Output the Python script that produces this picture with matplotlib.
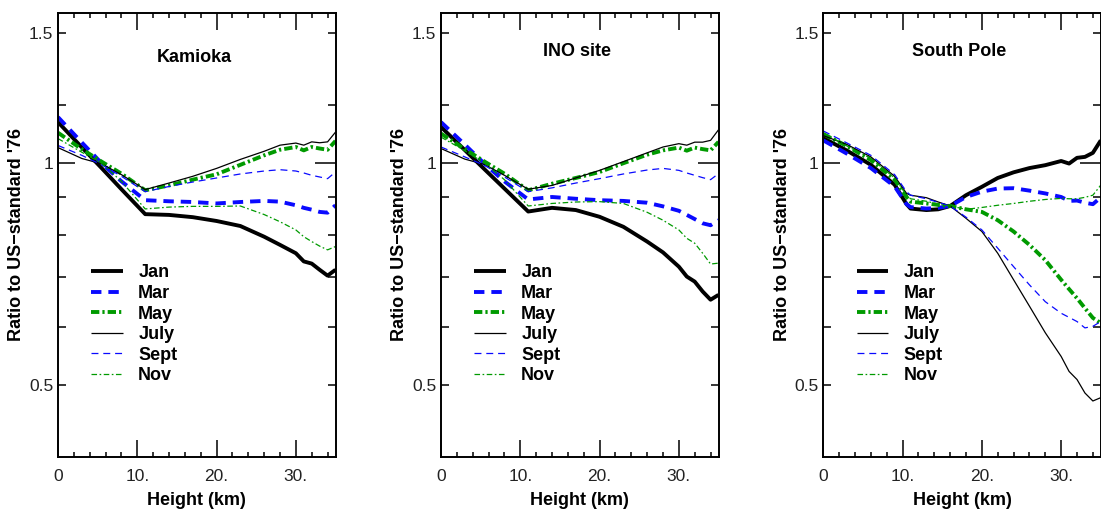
import matplotlib
matplotlib.use("Agg")
import matplotlib.pyplot as plt
from matplotlib.ticker import FixedLocator, NullFormatter

plt.rcParams['font.family'] = ['Liberation Sans', 'DejaVu Sans']
plt.rcParams['lines.scale_dashes'] = False

# ----------------------------
# Data
# ----------------------------
months = ["Jan", "Mar", "May", "July", "Sept", "Nov"]

# Kamioka
h_kam = [0, 3, 5.5, 8, 11, 14, 17, 20, 23, 26, 28, 30, 31, 32, 33, 34, 35]
kam_jan = [1.137, 1.051, 0.985, 0.922, 0.853, 0.851, 0.845, 0.835, 0.822, 0.795, 0.775, 0.755, 0.736, 0.731, 0.717, 0.704, 0.717]
kam_mar = [1.155, 1.067, 1.0, 0.945, 0.891, 0.888, 0.886, 0.882, 0.886, 0.889, 0.887, 0.877, 0.870, 0.865, 0.859, 0.857, 0.877]
kam_may = [1.10, 1.045, 1.005, 0.968, 0.919, 0.933, 0.950, 0.966, 0.995, 1.025, 1.043, 1.052, 1.041, 1.052, 1.047, 1.043, 1.072]
kam_jul = [1.050, 1.015, 0.998, 0.965, 0.921, 0.940, 0.960, 0.984, 1.012, 1.038, 1.058, 1.065, 1.058, 1.069, 1.066, 1.069, 1.102]
kam_sep = [1.057, 1.025, 0.995, 0.960, 0.915, 0.930, 0.943, 0.955, 0.967, 0.976, 0.980, 0.976, 0.970, 0.963, 0.958, 0.953, 0.973]
kam_nov = [1.080, 1.035, 1.0, 0.945, 0.867, 0.872, 0.874, 0.874, 0.875, 0.852, 0.833, 0.812, 0.795, 0.783, 0.772, 0.763, 0.771]

# INO site
h_ino = [0, 3, 5.5, 8, 11, 14, 17, 20, 23, 26, 28, 30, 31, 32, 33, 34, 35]
ino_jan = [1.12, 1.042, 0.981, 0.924, 0.86, 0.87, 0.864, 0.846, 0.820, 0.783, 0.757, 0.724, 0.702, 0.691, 0.670, 0.653, 0.663]
ino_mar = [1.137, 1.06, 0.998, 0.945, 0.893, 0.90, 0.895, 0.891, 0.889, 0.884, 0.874, 0.862, 0.851, 0.840, 0.829, 0.824, 0.837]
ino_may = [1.097, 1.045, 1.005, 0.968, 0.919, 0.938, 0.955, 0.973, 1.0, 1.027, 1.041, 1.05, 1.040, 1.05, 1.045, 1.041, 1.069]
ino_jul = [1.047, 1.013, 0.996, 0.963, 0.922, 0.933, 0.955, 0.978, 1.005, 1.033, 1.052, 1.063, 1.058, 1.068, 1.068, 1.074, 1.11]
ino_sep = [1.052, 1.02, 0.993, 0.958, 0.915, 0.926, 0.940, 0.953, 0.967, 0.979, 0.984, 0.978, 0.970, 0.963, 0.956, 0.950, 0.968]
ino_nov = [1.085, 1.04, 1.0, 0.95, 0.875, 0.882, 0.886, 0.887, 0.882, 0.858, 0.837, 0.812, 0.791, 0.779, 0.755, 0.730, 0.732]

# South Pole
h_sp = [0, 3, 6, 9, 10.5, 11, 13, 14.5, 16, 18, 20, 22, 24, 26, 28, 30, 31, 32, 33, 34, 35]
sp_jan = [1.082, 1.04, 0.995, 0.935, 0.88, 0.868, 0.864, 0.866, 0.875, 0.905, 0.929, 0.955, 0.972, 0.985, 0.994, 1.007, 0.999, 1.017, 1.02, 1.033, 1.074]
sp_mar = [1.074, 1.03, 0.985, 0.93, 0.88, 0.872, 0.868, 0.87, 0.875, 0.90, 0.915, 0.924, 0.925, 0.918, 0.910, 0.90, 0.889, 0.89, 0.884, 0.88, 0.899]
sp_may = [1.095, 1.055, 1.01, 0.95, 0.90, 0.887, 0.882, 0.878, 0.875, 0.866, 0.859, 0.837, 0.808, 0.775, 0.739, 0.695, 0.675, 0.656, 0.636, 0.617, 0.607]
sp_jul = [1.09, 1.06, 1.02, 0.96, 0.91, 0.905, 0.898, 0.886, 0.875, 0.842, 0.808, 0.755, 0.695, 0.64, 0.589, 0.547, 0.522, 0.509, 0.488, 0.476, 0.481]
sp_sep = [1.106, 1.065, 1.025, 0.965, 0.915, 0.905, 0.895, 0.885, 0.875, 0.845, 0.812, 0.767, 0.724, 0.684, 0.649, 0.626, 0.618, 0.610, 0.598, 0.601, 0.61]
sp_nov = [1.10, 1.055, 1.015, 0.955, 0.905, 0.895, 0.888, 0.88, 0.875, 0.866, 0.871, 0.877, 0.882, 0.888, 0.893, 0.896, 0.895, 0.895, 0.899, 0.905, 0.934]

sites = [
    ("Kamioka", h_kam, [kam_jan, kam_mar, kam_may, kam_jul, kam_sep, kam_nov]),
    ("INO site", h_ino, [ino_jan, ino_mar, ino_may, ino_jul, ino_sep, ino_nov]),
    ("South Pole", h_sp, [sp_jan, sp_mar, sp_may, sp_jul, sp_sep, sp_nov]),
]

# line styles per month: (color, linewidth, dashes)
BLUE = "#0a0aff"
GREEN = "#009a00"
styles = [
    ("black", 2.8, None),
    (BLUE, 2.8, (7.5, 5.0)),
    (GREEN, 2.8, (6.0, 2.2, 1.6, 2.2)),
    ("black", 0.9, None),
    (BLUE, 0.9, (5.0, 3.5)),
    (GREEN, 0.9, (4.0, 1.8, 1.2, 1.8)),
]

# ----------------------------
# Figure
# ----------------------------
fig = plt.figure(figsize=(11.01, 5.11), dpi=100)
W = 1101.0
H = 511.0
lefts = [58, 441, 823.3]
ax_w = 277.5
ax_bottom = 1 - 456.7 / H
ax_h = (456.7 - 12.7) / H
title_y = [0.900, 0.912, 0.912]

for k, (name, hgt, series) in enumerate(sites):
    ax = fig.add_axes([lefts[k] / W, ax_bottom, ax_w / W, ax_h])
    for m, vals in enumerate(series):
        color, lw, dashes = styles[m]
        line, = ax.plot(hgt, vals, color=color, lw=lw, label=months[m],
                        solid_capstyle="butt", dash_capstyle="butt")
        if dashes is not None:
            line.set_dashes(dashes)

    ax.set_yscale("log")
    ax.set_xlim(0, 35)
    ax.set_ylim(0.4, 1.6)

    ax.set_xticks([0, 10, 20, 30])
    ax.set_xticklabels(["0", "10.", "20.", "30."])
    ax.xaxis.set_minor_locator(FixedLocator([2, 4, 6, 8, 12, 14, 16, 18, 22, 24, 26, 28, 32, 34]))

    ax.yaxis.set_major_locator(FixedLocator([0.5, 1.0, 1.5]))
    ax.set_yticklabels(["0.5", "1", "1.5"])
    ax.yaxis.set_minor_locator(FixedLocator([0.6, 0.7, 0.8, 0.9, 1.2]))
    ax.yaxis.set_minor_formatter(NullFormatter())

    ax.tick_params(axis="both", which="both", direction="in", top=True, right=True,
                   width=1.1, colors="black", labelcolor="#222222", labelsize=12.5)
    ax.tick_params(axis="x", which="major", length=12, pad=9)
    ax.tick_params(axis="x", which="minor", length=3.8)
    ax.tick_params(axis="y", which="major", length=5.8, pad=3.4)
    ax.tick_params(axis="y", which="minor", length=5.8)
    # longer tick at ratio = 1
    t1 = ax.yaxis.get_major_ticks()[1]
    t1.tick1line.set_markersize(12.5)
    t1.tick2line.set_markersize(15)

    for sp in ax.spines.values():
        sp.set_linewidth(1.4)

    ax.set_xlabel("Height (km)", fontsize=13, fontweight="bold")
    ax.xaxis.set_label_coords(0.5, -0.08)
    ax.set_ylabel("Ratio to US\u2212standard '76", fontsize=13, fontweight="bold")
    ax.yaxis.set_label_coords(-0.118, 0.5)

    ax.text(0.49, title_y[k], name, transform=ax.transAxes, ha="center", va="center",
            fontsize=13, fontweight="bold")

    ax.legend(loc="center left", bbox_to_anchor=(0.12, 0.298), frameon=False,
              prop={"weight": "bold", "size": 13}, handlelength=1.75,
              handletextpad=0.85, labelspacing=0.2, borderpad=0, borderaxespad=0)

fig.savefig("out.png", dpi=100)
